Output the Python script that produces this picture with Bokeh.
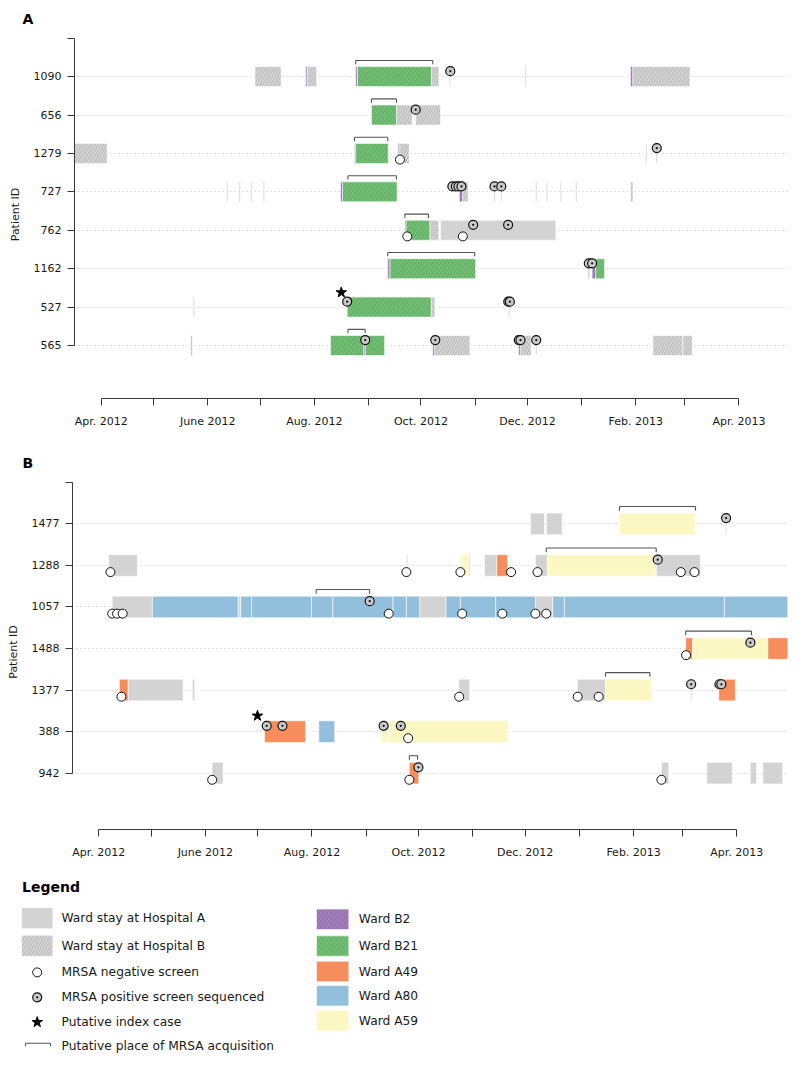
from bokeh.plotting import figure
from bokeh.models import Range1d, FixedTicker, ColumnDataSource, Title
from bokeh.embed import file_html
from bokeh.resources import INLINE
from bokeh.core.properties import value

FONT = "DejaVu Sans"

# ---------------- shared time axis (days since 1 April 2012) ----------------
month_ticks = [0, 61, 122, 183, 244, 306, 365]
month_labels = ["Apr. 2012", "June 2012", "Aug. 2012", "Oct. 2012", "Dec. 2012", "Feb. 2013", "Apr. 2013"]
month_minor = [30, 91, 153, 214, 275, 334]

# ---------------- Panel A ----------------
A_patients = ["565", "527", "1162", "762", "727", "1279", "656", "1090"]  # bottom -> top

A_seg_patient = (["1090"] * 10 + ["656"] * 3 + ["1279"] * 7 + ["727"] * 15 +
                 ["762"] * 4 + ["1162"] * 5 + ["527"] * 4 + ["565"] * 12)
A_seg_start = [88, 117, 117.8, 145.7, 146.7, 189, 199.2, 242.6, 303, 304.2,
               154.7, 169, 180,
               -16, 145, 145.6, 170, 170.8, 311.6, 317.5,
               71.7, 78.8, 85.6, 92.7, 137, 138.1, 205, 206.8, 224.7, 228.6, 248.6, 254.7, 262.7, 271.5, 303,
               173.8, 174.4, 188.1, 194.2,
               164, 165.2, 278.8, 281, 283,
               52.6, 140.8, 188.9, 233.1,
               51.1, 130.8, 131.3, 150.3, 151.1, 189.8, 190.8, 239, 240, 248.6, 315.8, 333]
A_seg_end = [103, 117.8, 123.3, 146.7, 189, 193.3, 200, 243.4, 304.2, 337,
             169, 178, 194.2,
             3.4, 145.6, 164.3, 170.8, 176.3, 312.4, 318.3,
             72.5, 79.6, 86.4, 93.5, 138.1, 169.4, 206.8, 210, 225.5, 229.4, 249.4, 255.5, 263.5, 272.3, 304.4,
             174.4, 188.1, 193.2, 260.2,
             165.2, 214.3, 279.4, 283, 288.1,
             53.4, 188.9, 191, 233.9,
             52.2, 131.3, 150.3, 151.1, 162.2, 190.8, 211, 240, 246.1, 249.4, 333, 338.3]
A_seg_ward = ["B", "B2", "B", "B2", "B21", "B", "A", "A", "B2", "B",
              "B21", "B", "B",
              "B", "B2", "B21", "B2", "B", "A", "A",
              "A", "A", "A", "A", "B2", "B21", "B2", "B", "A", "A", "A", "A", "A", "A", "B",
              "B2", "B21", "B", "A",
              "B2", "B21", "B2", "B2", "B21",
              "A", "B21", "B", "A",
              "B", "A", "B21", "B2", "B21", "B2", "B", "B2", "B", "A", "B", "B"]

A_scr_patient = (["1090"] + ["656"] + ["1279"] * 2 + ["727"] * 6 + ["762"] * 4 +
                 ["1162"] * 2 + ["527"] * 3 + ["565"] * 5)
A_scr_day = [199.8, 180, 171, 318, 201, 203, 204.5, 206.2, 225.1, 229,
             175.2, 207, 212.9, 232.9, 279.1, 281, 140.8, 233, 233.9,
             151.1, 191.2, 239, 240, 249]
A_scr_result = ["pos", "pos", "neg", "pos", "pos", "pos", "pos", "pos", "pos", "pos",
                "neg", "neg", "pos", "pos", "pos", "pos", "pos", "pos", "pos",
                "pos", "pos", "pos", "pos", "pos"]

A_acq_patient = ["1090", "656", "1279", "727", "762", "1162", "565"]
A_acq_start = [145.7, 154.7, 145, 141.2, 173.8, 164, 141.2]
A_acq_end = [189.8, 169, 164, 169, 187.3, 213.8, 151.1]

A_index_patient = ["527"]
A_index_day = [137.4]

# ---------------- Panel B ----------------
B_patients = ["942", "388", "1377", "1488", "1057", "1288", "1477"]  # bottom -> top

B_seg_patient = (["1477"] * 4 + ["1288"] * 10 + ["1057"] * 17 + ["1488"] * 3 +
                 ["1377"] * 8 + ["388"] * 5 + ["942"] * 6)
B_seg_start = [247, 256.1, 297.9, 358.5,
               5.7, 176, 206.9, 211.7, 220.7, 227.7, 235.5, 249.8, 256.7, 318.9,
               7.7, 30.7, 79.7, 81.2, 87.4, 121.7, 133.9, 168.4, 176, 183.6, 198.7, 206.9, 227.1, 249.8, 259.7, 266.4, 357.9,
               335.8, 339.8, 382.7,
               11.8, 16.8, 53.6, 206, 273.9, 289.9, 338.6, 354.7,
               94.8, 125.9, 161.7, 165.9, 166.5,
               64.9, 177.7, 321.9, 347.8, 372.8, 379.9]
B_seg_end = [255, 265.1, 341.4, 359.3,
             22.1, 176.8, 211.7, 212.5, 227.7, 234, 236.1, 256.7, 318.9, 344.2,
             30.7, 79.7, 81.2, 87.4, 121.7, 133.9, 168.4, 176, 183.6, 198.7, 206.9, 227.1, 249.8, 259.7, 266.4, 357.9, 394.2,
             339.8, 382.7, 394.2,
             16.8, 48.3, 54.9, 212.2, 289.9, 316.2, 339.3, 364.2,
             118.3, 135, 165.9, 166.5, 234.2,
             71.2, 183.1, 326.1, 362.4, 376.3, 391.3]
B_seg_ward = ["A", "A", "A59", "A",
              "A", "A", "A59", "A", "A", "A49", "A", "A", "A59", "A",
              "A", "A80", "A", "A80", "A80", "A80", "A80", "A80", "A80", "A", "A80", "A80", "A80", "A", "A80", "A80", "A80",
              "A49", "A59", "A49",
              "A49", "A", "A", "A", "A", "A59", "A", "A49",
              "A49", "A80", "A59", "A", "A59",
              "A", "A49", "A", "A", "A", "A"]

B_scr_patient = (["1477"] + ["1288"] * 8 + ["1057"] * 9 + ["1488"] * 2 +
                 ["1377"] * 7 + ["388"] * 5 + ["942"] * 4)
B_scr_day = [358.9,
             6.7, 176, 206.9, 235.9, 251, 319.8, 333, 340.8,
             7.7, 10.5, 13.7, 155, 165.9, 207.9, 230.9, 249.8, 256,
             336, 372.8,
             13, 206.2, 274, 286, 338.9, 355.1, 356.2,
             96.1, 105.1, 163, 172.8, 177,
             64.9, 177.7, 182.9, 321.9]
B_scr_result = ["pos",
                "neg", "neg", "neg", "neg", "neg", "pos", "neg", "neg",
                "neg", "neg", "neg", "pos", "neg", "neg", "neg", "neg", "neg",
                "neg", "pos",
                "neg", "neg", "neg", "neg", "pos", "pos", "pos",
                "pos", "pos", "pos", "pos", "neg",
                "neg", "neg", "pos", "neg"]

B_acq_patient = ["1477", "1288", "1057", "1488", "1377", "942"]
B_acq_start = [297.9, 256, 124.4, 335.8, 289.9, 177.7]
B_acq_end = [341.4, 318.9, 155, 373.4, 315.3, 182.4]

B_index_patient = ["388"]
B_index_day = [90.8]

# ---------------- Legend ----------------
legend_title = "Legend"
legend_left_labels = ["Ward stay at Hospital A", "Ward stay at Hospital B", "MRSA negative screen",
                      "MRSA positive screen sequenced", "Putative index case",
                      "Putative place of MRSA acquisition"]
legend_right_wards = ["B2", "B21", "A49", "A80", "A59"]
legend_right_labels = ["Ward B2", "Ward B21", "Ward A49", "Ward A80", "Ward A59"]

# ---------------- styles ----------------
WARD_FILL = {"A": "#d3d3d3", "B": "#d9d9d9", "B2": "#a985c2", "B21": "#78c47a",
             "A49": "#f68d5c", "A80": "#92bfdb", "A59": "#fbf8c3"}
WARD_HATCH = {"B": "#8a8a8a", "B2": "#64437f", "B21": "#3a8540"}
AXIS_COL = "#3a3a3a"
TEXT_COL = "#1a1a1a"
BAR_H = 0.52


def bar_kwargs(w):
    kw = dict(fill_color=WARD_FILL[w], line_color="white", line_width=0.6)
    if w in WARD_HATCH:
        kw.update(hatch_pattern="/", hatch_color=WARD_HATCH[w], hatch_alpha=0.75,
                  hatch_scale=5.5, hatch_weight=0.7)
    return kw


def panel(title, patients, seg_p, seg_s, seg_e, seg_w, scr_p, scr_d, scr_r,
          acq_p, acq_s, acq_e, idx_p, idx_d, height, left, top, bottom,
          x_start, x_end, y_start, y_end, title_offset):
    n = len(patients)
    row = {pid: i for i, pid in enumerate(patients)}
    p = figure(width=800, height=height, output_backend="svg", toolbar_location=None,
               x_range=Range1d(x_start, x_end), y_range=Range1d(y_start, y_end),
               min_border_left=left, min_border_right=12, min_border_top=top,
               min_border_bottom=bottom)
    p.outline_line_color = None
    p.xgrid.visible = False
    p.ygrid.ticker = FixedTicker(ticks=list(range(n)))
    p.ygrid.grid_line_color = "#c4c4c4"
    p.ygrid.grid_line_dash = "1 3"
    p.ygrid.grid_line_width = 1

    for w in ["A", "B", "B21", "B2", "A49", "A80", "A59"]:
        ids = [i for i, ww in enumerate(seg_w) if ww == w]
        if not ids:
            continue
        src = ColumnDataSource(dict(y=[row[seg_p[i]] for i in ids],
                                    left=[seg_s[i] for i in ids],
                                    right=[seg_e[i] for i in ids]))
        p.hbar(y="y", left="left", right="right", height=BAR_H, source=src, **bar_kwargs(w))

    # acquisition brackets
    ay = [row[q] + 0.42 for q in acq_p]
    p.segment(x0=acq_s, y0=ay, x1=acq_e, y1=ay, line_color="#555555", line_width=1.1)
    p.segment(x0=acq_s + acq_e, y0=ay + ay, x1=acq_s + acq_e, y1=[v - 0.1 for v in ay + ay],
              line_color="#555555", line_width=1.1)

    # screens
    neg = [i for i, r in enumerate(scr_r) if r == "neg"]
    pos = [i for i, r in enumerate(scr_r) if r == "pos"]
    p.scatter(x=[scr_d[i] for i in neg], y=[row[scr_p[i]] - 0.16 for i in neg], marker="circle",
              size=9, fill_color="white", line_color="#111111", line_width=1)
    p.scatter(x=[scr_d[i] for i in pos], y=[row[scr_p[i]] + 0.14 for i in pos], marker="circle_dot",
              size=9, fill_color="#c9c9c9", line_color="#111111", line_width=1.2)
    p.scatter(x=idx_d, y=[row[q] + 0.38 for q in idx_p], marker="star", size=11,
              fill_color="black", line_color="black")

    xa = p.xaxis[0]
    xa.ticker = FixedTicker(ticks=month_ticks, minor_ticks=month_minor)
    xa.major_label_overrides = dict(zip(month_ticks, month_labels))
    xa.bounds = (0, 365)
    xa.major_tick_out = 7
    xa.major_tick_in = 0
    xa.minor_tick_out = 7
    xa.minor_tick_in = 0
    xa.major_label_standoff = 9
    xa.axis_line_color = AXIS_COL
    xa.major_tick_line_color = AXIS_COL
    xa.minor_tick_line_color = AXIS_COL
    xa.major_label_text_font = FONT
    xa.major_label_text_font_size = "11px"
    xa.major_label_text_color = TEXT_COL

    ya = p.yaxis[0]
    ya.ticker = FixedTicker(ticks=list(range(n + 1)))
    overrides = {i: pid for i, pid in enumerate(patients)}
    overrides[n] = " "
    ya.major_label_overrides = overrides
    ya.bounds = (0, n)
    ya.major_tick_out = 7
    ya.major_tick_in = 0
    ya.minor_tick_line_color = None
    ya.major_label_standoff = 6
    ya.axis_line_color = AXIS_COL
    ya.major_tick_line_color = AXIS_COL
    ya.major_label_text_font = FONT
    ya.major_label_text_font_size = "11px"
    ya.major_label_text_color = TEXT_COL
    ya.axis_label = "Patient ID"
    ya.axis_label_text_font = FONT
    ya.axis_label_text_font_size = "11px"
    ya.axis_label_text_font_style = "normal"
    ya.axis_label_text_color = TEXT_COL
    ya.axis_label_standoff = 9

    p.add_layout(Title(text=title, align="left", offset=title_offset, text_font=FONT,
                       text_font_size="14px", text_font_style="bold", text_color="black",
                       standoff=8), "above")
    return p


pA = panel("A", A_patients, A_seg_patient, A_seg_start, A_seg_end, A_seg_ward,
           A_scr_patient, A_scr_day, A_scr_result, A_acq_patient, A_acq_start, A_acq_end,
           A_index_patient, A_index_day, height=448, left=74, top=30, bottom=50,
           x_start=-15.3, x_end=393.4, y_start=-1.38, y_end=8.2, title_offset=-52)

pB = panel("B", B_patients, B_seg_patient, B_seg_start, B_seg_end, B_seg_ward,
           B_scr_patient, B_scr_day, B_scr_result, B_acq_patient, B_acq_start, B_acq_end,
           B_index_patient, B_index_day, height=422, left=72, top=22, bottom=41,
           x_start=-15.0, x_end=394.6, y_start=-1.357, y_end=7.19, title_offset=-50)

# ---------------- legend figure (page pixel coordinates) ----------------
lg = figure(width=800, height=195, output_backend="svg", toolbar_location=None,
            x_range=Range1d(0, 800), y_range=Range1d(1065, 870),
            x_axis_location=None, y_axis_location=None, min_border=0)
lg.grid.visible = False
lg.outline_line_color = None

lg.text(x=[21.5], y=[886], text=[legend_title], text_font=value(FONT), text_font_size="14px",
        text_font_style="bold", text_baseline="middle", text_align="left", text_color="black")

left_rows = [917.7, 945.3, 971.9, 996.8, 1021.7, 1045.5]
lg.text(x=[61] * len(legend_left_labels), y=left_rows, text=legend_left_labels,
        text_font=value(FONT), text_font_size="12.25px", text_baseline="middle",
        text_align="left", text_color=TEXT_COL)
for w, yc in zip(["A", "B"], left_rows[:2]):
    lg.quad(left=[21], right=[52.3], top=[yc - 10.5], bottom=[yc + 10.5], **bar_kwargs(w))
lg.scatter(x=[36.7], y=[left_rows[2]], marker="circle", size=9, fill_color="white",
           line_color="#111111", line_width=1)
lg.scatter(x=[36.7], y=[left_rows[3]], marker="circle_dot", size=9, fill_color="#c9c9c9",
           line_color="#111111", line_width=1.2)
lg.scatter(x=[36.7], y=[left_rows[4]], marker="star", size=11, fill_color="black", line_color="black")
lg.segment(x0=[25, 25, 50], y0=[1042.7, 1042.7, 1042.7], x1=[50, 25, 50], y1=[1042.7, 1045.7, 1045.7],
           line_color="#555555", line_width=1.1)

right_rows = [918.8, 945.5, 971, 995.3, 1020.3]
lg.text(x=[358.3] * len(legend_right_labels), y=right_rows, text=legend_right_labels,
        text_font=value(FONT), text_font_size="12.25px", text_baseline="middle",
        text_align="left", text_color=TEXT_COL)
for w, yc in zip(legend_right_wards, right_rows):
    lg.quad(left=[316], right=[348.3], top=[yc - 10.2], bottom=[yc + 10.2], **bar_kwargs(w))

# separate roots so that the plot frames are not aligned with each other
open("out.html", "w").write(file_html([pA, pB, lg], INLINE))
